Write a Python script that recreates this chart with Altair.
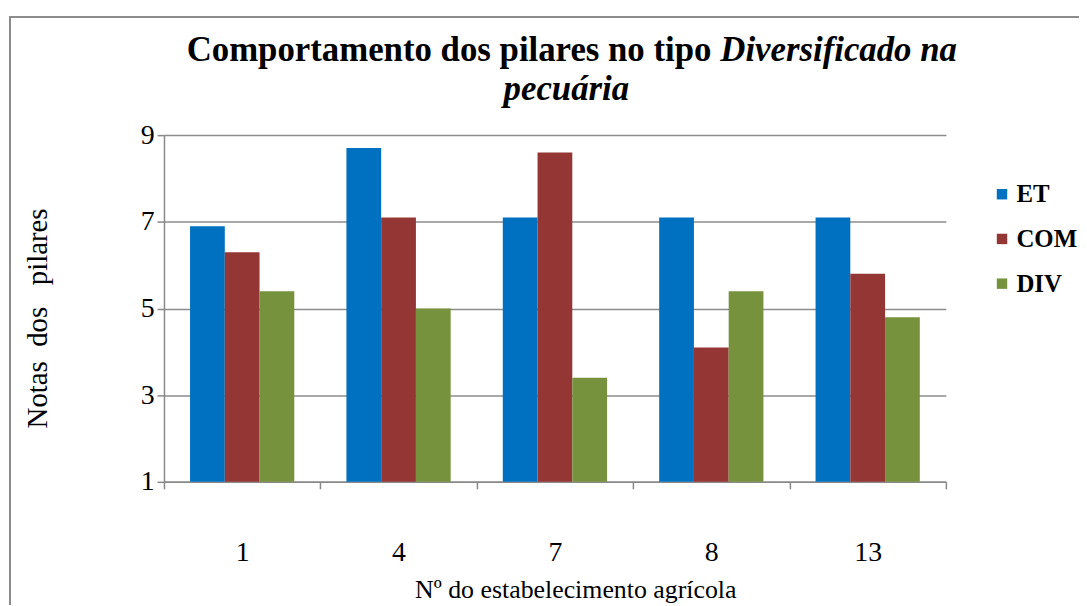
import altair as alt
import pandas as pd

categories = ["1", "4", "7", "8", "13"]
series = ["ET", "COM", "DIV"]
et_values = [6.9, 8.7, 7.1, 7.1, 7.1]
com_values = [6.3, 7.1, 8.6, 4.1, 5.8]
div_values = [5.4, 5.0, 3.4, 5.4, 4.8]
colors = ["#0070C0", "#943634", "#76923C"]
y_ticks = [1, 3, 5, 7, 9]

title_part1 = "Comportamento dos pilares no tipo"
title_part2 = "Diversificado na"
title_line2 = "pecuária"
x_title = "Nº do estabelecimento agrícola"
y_title = "Notas\u00a0 dos\u00a0\u00a0 pilares"

rows = []
for name, vals in zip(series, [et_values, com_values, div_values]):
    for c, v in zip(categories, vals):
        rows.append({"estab": c, "serie": name, "nota": v})
df = pd.DataFrame(rows)

FONT = "Liberation Serif, DejaVu Serif"
W, H = 787, 349

bars = alt.Chart(df).mark_bar().encode(
    x=alt.X("estab:N", sort=categories,
            scale=alt.Scale(paddingInner=0, paddingOuter=0),
            axis=alt.Axis(title=x_title, labelAngle=0, tickBand="extent",
                          grid=False, domainColor="#888888", tickColor="#888888",
                          domainWidth=1.5, tickWidth=1.5, tickSize=7,
                          labelFont=FONT, labelFontSize=28, labelColor="black",
                          labelPadding=50, titleFont=FONT, titleFontSize=26,
                          titleFontWeight="normal", titleColor="black",
                          titleX=414, titleY=108, titleAlign="center",
                          titleBaseline="middle")),
    xOffset=alt.XOffset("serie:N", sort=series,
                        scale=alt.Scale(paddingInner=0, paddingOuter=0.75)),
    y=alt.Y("nota:Q", scale=alt.Scale(domain=[1, 9], nice=False, zero=False),
            axis=alt.Axis(title=y_title, values=y_ticks, grid=True,
                          gridColor="#8c8c8c", gridWidth=1.5,
                          domainColor="#888888", tickColor="#888888",
                          domainWidth=1.5, tickWidth=1.5, tickSize=7,
                          labelFont=FONT, labelFontSize=28, labelColor="black",
                          labelPadding=3, titleFont=FONT, titleFontSize=29,
                          titleFontWeight="normal", titleColor="black",
                          titleX=-127, titleY=184, titleAngle=-90,
                          titleAlign="center", titleBaseline="middle")),
    y2=alt.datum(1),
    color=alt.Color("serie:N", sort=series,
                    scale=alt.Scale(domain=series, range=colors),
                    legend=alt.Legend(title=None, orient="none", legendX=831,
                                      legendY=47, symbolType="square",
                                      symbolSize=110, symbolStrokeWidth=0,
                                      labelFont=FONT, labelFontSize=25,
                                      labelFontWeight="bold", labelColor="black",
                                      labelOffset=2, rowPadding=19)),
)

t1 = alt.Chart(pd.DataFrame({"t": [title_part1]})).mark_text(
    font=FONT, fontSize=35, fontWeight="bold", align="right", baseline="middle"
).encode(text="t:N", x=alt.value(551), y=alt.value(-86))

t2 = alt.Chart(pd.DataFrame({"t": [title_part2]})).mark_text(
    font=FONT, fontSize=35, fontWeight="bold", fontStyle="italic",
    align="left", baseline="middle"
).encode(text="t:N", x=alt.value(560), y=alt.value(-86))

t3 = alt.Chart(pd.DataFrame({"t": [title_line2]})).mark_text(
    font=FONT, fontSize=35, fontWeight="bold", fontStyle="italic",
    align="center", baseline="middle"
).encode(text="t:N", x=alt.value(405), y=alt.value(-46))

border = alt.Chart(pd.DataFrame({"b": [0]})).mark_rect(
    fill=None, stroke="#8c8c8c", strokeWidth=2
).encode(x=alt.value(-155), x2=alt.value(1100), y=alt.value(-119), y2=alt.value(700))

chart = alt.layer(border, bars, t1, t2, t3).properties(
    width=W, height=H,
    padding={"left": 157, "top": 126, "right": 134, "bottom": 122},
    autosize="none",
).configure_view(stroke=None)

chart.save("out.html", embed_options={"renderer": "svg", "actions": False})
